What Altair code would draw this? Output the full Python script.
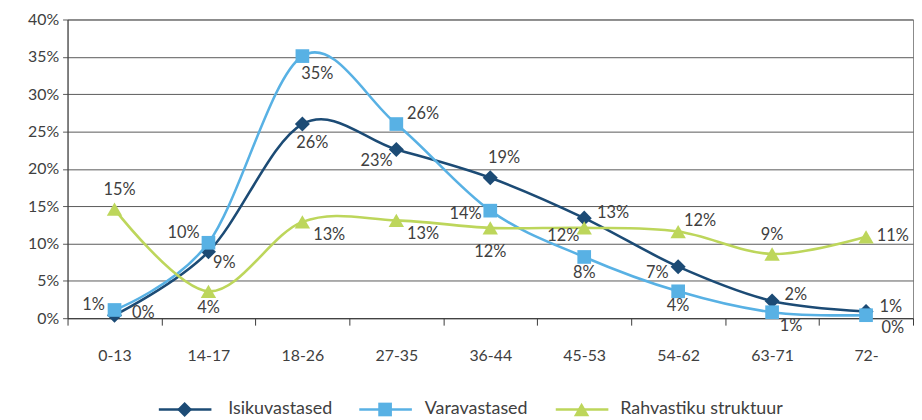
import altair as alt
import pandas as pd

# ---------------- data ----------------
categories = ["0-13", "14-17", "18-26", "27-35", "36-44", "45-53", "54-62", "63-71", "72-"]
series_names = ["Isikuvastased", "Varavastased", "Rahvastiku struktuur"]
isikuvastased = [0.4, 8.9, 26.0, 22.6, 18.8, 13.4, 6.9, 2.3, 0.9]
varavastased = [1.1, 10.1, 35.1, 26.0, 14.4, 8.2, 3.6, 0.8, 0.4]
rahvastik = [14.6, 3.6, 12.9, 13.1, 12.1, 12.1, 11.6, 8.6, 10.9]
y_ticks = [0, 5, 10, 15, 20, 25, 30, 35, 40]

# ---------------- style ----------------
colors = ["#1c4b75", "#58b1e4", "#bdd65b"]
shapes = ["diamond", "square", "triangle-up"]
sizes = [230, 190, 240]
FONT = "Lato"
TXT = "#404040"
GRID = "#5a5a5a"

# label offsets (pixels) for each point, per series
label_offsets = {
    "Isikuvastased": [(29, -2), (16, 11), (10, 19), (-20, 12), (14, -20), (29, -5), (-21, 6), (24, -6), (25, -4)],
    "Varavastased": [(-21, -5), (-25, -10), (15, 18), (27, -10), (-25, 3), (0, 16), (0, 15), (19, 14), (27, 13)],
    "Rahvastiku struktuur": [(5, -19), (0, 17), (27, 13), (27, 14), (0, 24), (-21, 8), (22, -11), (0, -19), (27, -1)],
}

values_by_series = [isikuvastased, varavastased, rahvastik]
rows = []
for s, vals in zip(series_names, values_by_series):
    for i, (c, v) in enumerate(zip(categories, vals)):
        dx, dy = label_offsets[s][i]
        rows.append({"category": c, "series": s, "value": v,
                     "label": f"{int(v + 0.5)}%", "dx": dx, "dy": dy})
df = pd.DataFrame(rows)

x_enc = alt.X(
    "category:N", sort=categories, bandPosition=0.5,
    scale=alt.Scale(type="band", paddingInner=0, paddingOuter=0),
    axis=alt.Axis(title=None, labelAngle=0, tickBand="extent", tickSize=7,
                  labelPadding=23, labelFont=FONT, labelFontSize=16, labelColor=TXT,
                  domainColor="#3a3a3a", tickColor="#3a3a3a", grid=False),
)
y_enc = alt.Y(
    "value:Q", scale=alt.Scale(domain=[0, 40], nice=False, zero=True),
    axis=alt.Axis(title=None, values=y_ticks, labelExpr="datum.value + '%'",
                  tickSize=5, tickColor=GRID, labelPadding=4, labelFont=FONT,
                  labelFontSize=16, labelColor=TXT, domainColor="#3a3a3a",
                  grid=True, gridColor=GRID, gridWidth=1),
)

base = alt.Chart(df)
layers = []
for s, col, shp, sz in zip(series_names, colors, shapes, sizes):
    sub = base.transform_filter(alt.datum.series == s)
    layers.append(sub.mark_line(interpolate="cardinal", strokeWidth=2.6, color=col).encode(
        x=x_enc, y=y_enc))
    layers.append(sub.mark_point(filled=True, opacity=1, shape=shp, size=sz, color=col).encode(
        x=x_enc, y=y_enc))

# data labels
pairs = sorted(set(zip(df["dx"], df["dy"])))
for dx, dy in pairs:
    layers.append(
        base.transform_filter((alt.datum.dx == int(dx)) & (alt.datum.dy == int(dy)))
        .mark_text(dx=int(dx), dy=int(dy), font=FONT, fontSize=16.5, color=TXT,
                   align="center", baseline="middle")
        .encode(x=x_enc, y=y_enc, text="label:N")
    )

# legend (drawn below plot)
legend_df = pd.DataFrame({"k": [0]})
leg = alt.Chart(legend_df)
legend_y = 393
legend_starts = [92, 294, 492]
legend_text_x = [162, 360, 557]
for s, col, shp, sz, x0, xt in zip(series_names, colors, shapes, sizes, legend_starts, legend_text_x):
    layers.append(leg.mark_rule(color=col, strokeWidth=2.6).encode(
        x=alt.value(x0), x2=alt.value(x0 + 53), y=alt.value(legend_y)))
    layers.append(leg.mark_point(filled=True, opacity=1, shape=shp, size=sz, color=col).encode(
        x=alt.value(x0 + 26), y=alt.value(legend_y)))
    layers.append(leg.mark_text(align="left", baseline="middle", font=FONT, fontSize=18, color=TXT).encode(
        x=alt.value(xt), y=alt.value(legend_y), text=alt.value(s)))

chart = alt.layer(*layers).properties(
    width=852, height=301,
    autosize=alt.AutoSizeParams(type="none"),
    padding={"left": 60, "top": 10, "right": 1, "bottom": 100},
).configure_view(stroke="#8a8a8a", strokeWidth=1)

chart.save("out.html", embed_options={"renderer": "svg", "actions": False})
